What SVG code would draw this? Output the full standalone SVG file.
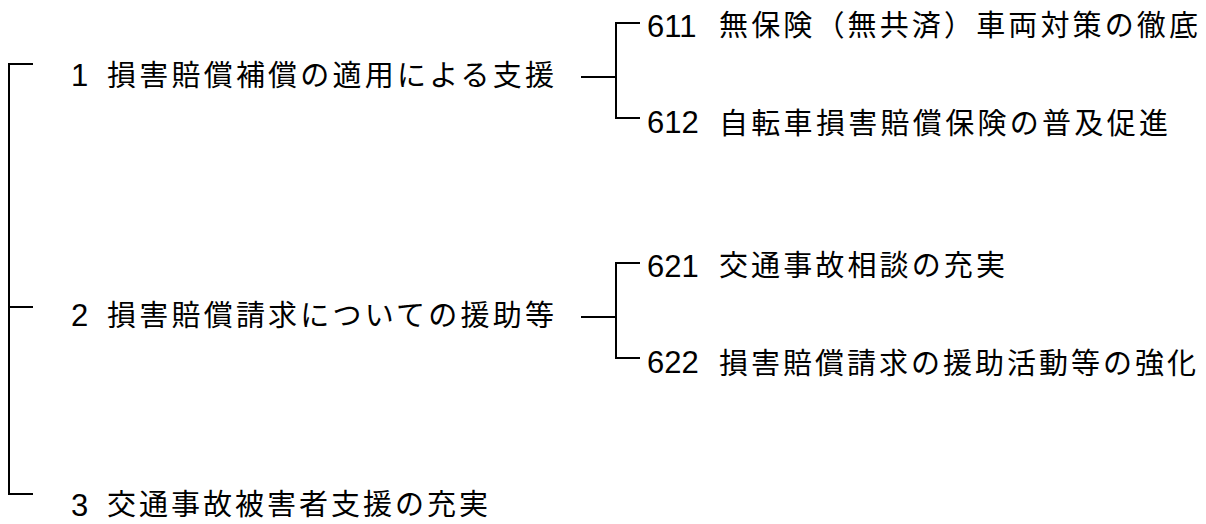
<svg xmlns="http://www.w3.org/2000/svg" width="1206" height="524" viewBox="0 0 1206 524">
<style>
.ln{stroke:#000;stroke-width:2;fill:none}
.d{font-family:"Liberation Sans",Arial,sans-serif;font-size:31px;fill:#000}
.j{font-family:"Noto Sans CJK JP","Noto Sans CJK SC",sans-serif;font-size:29px;fill:#000}
</style>
<rect width="1206" height="524" fill="#fff"/>
<g id="connectors">
<path class="ln" d="M33,64 H9 V494 H33 M9,307 H33"/>
<path class="ln" d="M581,77 H616 M640,23 H616 V118 H640"/>
<path class="ln" d="M581,317 H616 M640,263 H616 V358 H640"/>
</g>
<g id="n1">
<text class="d" x="71" y="86">1</text>
<text class="j" x="107" y="86" textLength="447" lengthAdjust="spacing">損害賠償補償の適用による支援</text>
</g>
<g id="n2">
<text class="d" x="71" y="326">2</text>
<text class="j" x="107" y="326" textLength="447" lengthAdjust="spacing">損害賠償請求についての援助等</text>
</g>
<g id="n3">
<text class="d" x="71" y="516">3</text>
<text class="j" x="107" y="515" textLength="381" lengthAdjust="spacing">交通事故被害者支援の充実</text>
</g>
<g id="n611">
<text class="d" x="647" y="37">611</text>
<text class="j" x="719" y="36" textLength="479" lengthAdjust="spacing">無保険（無共済）車両対策の徹底</text>
</g>
<g id="n612">
<text class="d" x="647" y="133">612</text>
<text class="j" x="719" y="134" textLength="449" lengthAdjust="spacing">自転車損害賠償保険の普及促進</text>
</g>
<g id="n621">
<text class="d" x="647" y="277">621</text>
<text class="j" x="719" y="276" textLength="286" lengthAdjust="spacing">交通事故相談の充実</text>
</g>
<g id="n622">
<text class="d" x="647" y="373">622</text>
<text class="j" x="719" y="374" textLength="477" lengthAdjust="spacing">損害賠償請求の援助活動等の強化</text>
</g>
</svg>
